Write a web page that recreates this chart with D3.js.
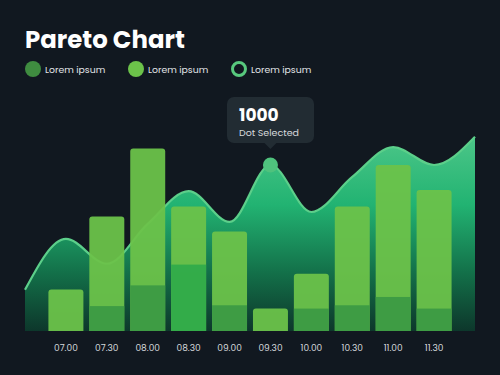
<!DOCTYPE html>
<html><head><meta charset="utf-8">
<script src="https://cdnjs.cloudflare.com/ajax/libs/d3/7.8.5/d3.min.js"></script>
<style>
html,body{margin:0;padding:0;background:#111820;}
svg{display:block;}
</style></head>
<body>
<svg id="c" width="500" height="375"></svg>
<script>
const categories = ["07.00","07.30","08.00","08.30","09.00","09.30","10.00","10.30","11.00","11.30"];
const barTotals = [250, 690, 1100, 750, 600, 135, 345, 750, 1000, 850];
const barBase = [0, 150, 275, 400, 155, 0, 135, 155, 205, 135];
// curve points: left edge, one per category, right edge
const curveValues = [248, 555, 405, 645, 843, 657, 1000, 717, 928, 1108, 1000, 1170];
const selectedIndex = 5;
const selectedValue = 1000;
const legendLabels = ["Lorem ipsum","Lorem ipsum","Lorem ipsum"];

const svg = d3.select("#c");
svg.append("rect").attr("width",500).attr("height",375).attr("fill","#111820");

const left = 25, right = 475, bottom = 331;
const y = d3.scaleLinear().domain([0,1000]).range([bottom,165]);
const xBand = d3.scaleBand().domain(categories)
  .range([left + (right-left)/22, right - (right-left)/22])
  .paddingInner(0.145).paddingOuter(0.0725);
const curveKeys = ["_s", ...categories, "_e"];
const xp = d3.scalePoint().domain(curveKeys).range([left,right]);

const defs = svg.append("defs");
const g = defs.append("linearGradient").attr("id","ag").attr("gradientUnits","userSpaceOnUse")
  .attr("x1",0).attr("x2",0).attr("y1",y(1170)).attr("y2",bottom);
g.append("stop").attr("offset","0%").attr("stop-color","#4cc688");
g.append("stop").attr("offset","35%").attr("stop-color","#22b372");
g.append("stop").attr("offset","70%").attr("stop-color","#137049");
g.append("stop").attr("offset","100%").attr("stop-color","#0d372b");

const pts = curveValues.map((v,i)=>[xp(curveKeys[i]), y(v)]);
const area = d3.area().x(d=>d[0]).y0(bottom).y1(d=>d[1]).curve(d3.curveMonotoneX);
const line = d3.line().x(d=>d[0]).y(d=>d[1]).curve(d3.curveMonotoneX);
svg.append("path").attr("d",area(pts)).attr("fill","url(#ag)");
svg.append("path").attr("d",line(pts)).attr("fill","none").attr("stroke","#5ccf8a").attr("stroke-width",2.2);

// bars
const bw = xBand.bandwidth();
function topRounded(x,yt,w,h,r){
  r=Math.min(r,h/2,w/2);
  return `M${x},${yt+h}V${yt+r}Q${x},${yt} ${x+r},${yt}H${x+w-r}Q${x+w},${yt} ${x+w},${yt+r}V${yt+h}Z`;
}
const bars = svg.append("g");
categories.forEach((c,i)=>{
  const x0 = xBand(c);
  const yt = y(barTotals[i]);
  bars.append("path").attr("d",topRounded(x0,yt,bw,bottom-yt,3))
    .attr("fill","#6cc24a").attr("fill-opacity",0.95);
  if(barBase[i]>0){
    const yb = y(barBase[i]);
    bars.append("rect").attr("x",x0).attr("y",yb).attr("width",bw).attr("height",bottom-yb)
      .attr("fill", i===3 ? "#30ab4a" : "#3c9a45").attr("fill-opacity",0.95);
  }
});

// axis labels
const ax = svg.append("g").attr("transform",`translate(0,${bottom})`)
  .call(d3.axisBottom(xBand).tickSize(0).tickPadding(14));
ax.select(".domain").remove();
ax.selectAll("text").attr("fill","#d6d9dc").attr("font-size",9)
  .attr("font-family","Poppins, 'Open Sans', sans-serif");

// selected dot
const sx = xp(categories[selectedIndex]), sy = y(selectedValue);
svg.append("circle").attr("cx",sx).attr("cy",sy).attr("r",7.5).attr("fill","#4fc27d");

// tooltip
const tt = svg.append("g");
tt.append("rect").attr("x",227).attr("y",97).attr("width",87).attr("height",46).attr("rx",7)
  .attr("fill","#222c33");
tt.append("path").attr("d",`M${sx-6},143L${sx},149L${sx+6},143Z`).attr("fill","#222c33");
tt.append("text").attr("x",239).attr("y",121).text(String(selectedValue))
  .attr("fill","#ffffff").attr("font-size",17).attr("font-weight",700)
  .attr("font-family","Poppins, 'Open Sans', sans-serif");
tt.append("text").attr("x",239).attr("y",136).text("Dot Selected")
  .attr("fill","#d6d9dc").attr("font-size",9.5)
  .attr("font-family","Poppins, 'Open Sans', sans-serif");

// title
svg.append("text").attr("x",25).attr("y",48).text("Pareto Chart")
  .attr("fill","#ffffff").attr("font-size",24.4).attr("font-weight",700)
  .attr("font-family","Poppins, 'Open Sans', sans-serif");

// legend
const lx = [33,136,239];
legendLabels.forEach((t,i)=>{
  const c = svg.append("circle").attr("cx",lx[i]).attr("cy",69);
  if(i===0) c.attr("r",8).attr("fill","#3f8c40");
  else if(i===1) c.attr("r",8).attr("fill","#6cc24a");
  else c.attr("r",6.5).attr("fill","none").attr("stroke","#58c97e").attr("stroke-width",3);
  svg.append("text").attr("x",lx[i]+12).attr("y",72.5).text(t)
    .attr("fill","#e2e5e8").attr("font-size",9.3)
    .attr("font-family","Poppins, 'Open Sans', sans-serif");
});
</script>
</body></html>
